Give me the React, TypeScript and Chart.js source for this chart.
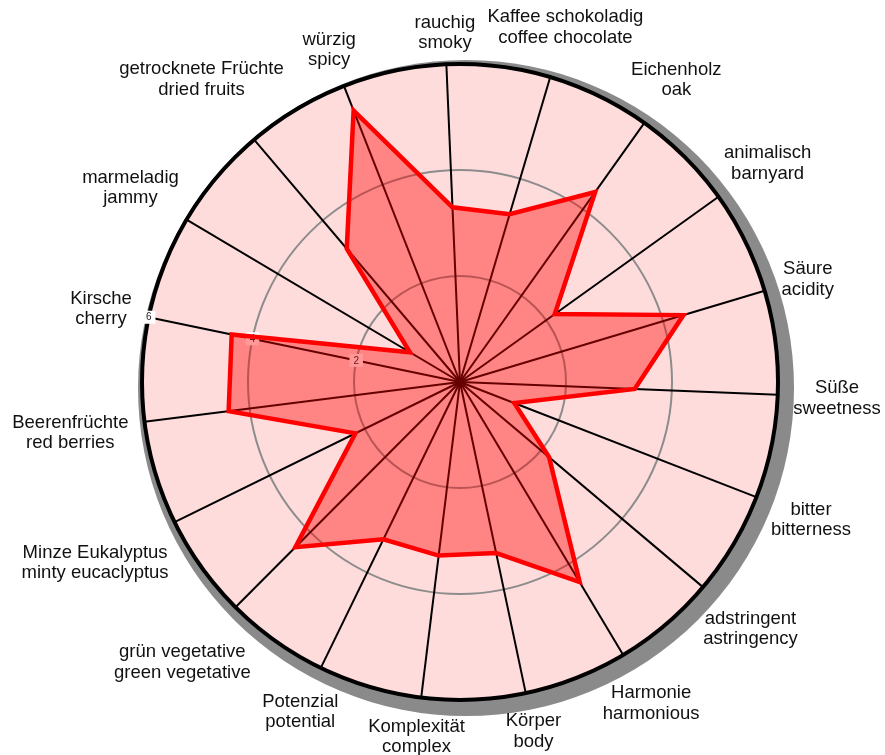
import React, { useEffect, useRef } from "react";
import { Chart, registerables } from "chart.js";

Chart.register(...registerables);

// ---- data ----
const germanLabels = [
  "Kirsche",
  "marmeladig",
  "getrocknete Früchte",
  "würzig",
  "rauchig",
  "Kaffee schokoladig",
  "Eichenholz",
  "animalisch",
  "Säure",
  "Süße",
  "bitter",
  "adstringent",
  "Harmonie",
  "Körper",
  "Komplexität",
  "Potenzial",
  "grün vegetative",
  "Minze Eukalyptus",
  "Beerenfrüchte",
];
const englishLabels = [
  "cherry",
  "jammy",
  "dried fruits",
  "spicy",
  "smoky",
  "coffee chocolate",
  "oak",
  "barnyard",
  "acidity",
  "sweetness",
  "bitterness",
  "astringency",
  "harmonious",
  "body",
  "complex",
  "potential",
  "green vegetative",
  "minty eucaclyptus",
  "red berries",
];
const scores = [4.4, 1.1, 3.3, 5.5, 3.3, 3.3, 4.4, 2.2, 4.4, 3.3, 1.1, 2.2, 4.4, 3.3, 3.3, 3.3, 4.4, 2.2, 4.4];
const tickValues = [2, 4, 6];
const axisMin = 0;
const axisMax = 6;

const LABEL_FONT = '18.5px "Liberation Sans", Arial, sans-serif';
const TICK_FONT = '10px "Liberation Sans", Arial, sans-serif';

const shadowPlugin = {
  id: "discShadow",
  beforeDraw(chart: any) {
    const s = chart.scales.r;
    if (!s) return;
    const ctx = chart.ctx;
    ctx.save();
    ctx.fillStyle = "#8a8a8a";
    ctx.beginPath();
    ctx.arc(s.xCenter + 6, s.yCenter + 6, s.drawingArea + 10, 0, Math.PI * 2);
    ctx.fill();
    ctx.restore();
  },
};

const tickLabelPlugin = {
  id: "uprightTicks",
  beforeDatasetsDraw(chart: any) {
    const s = chart.scales.r;
    const ctx = chart.ctx;
    ctx.save();
    ctx.font = TICK_FONT;
    ctx.textAlign = "center";
    ctx.textBaseline = "middle";
    tickValues.forEach((v) => {
      const d = s.getDistanceFromCenterForValue(v);
      const p = s.getPointPosition(0, d);
      const txt = String(v);
      const w = ctx.measureText(txt).width;
      ctx.fillStyle = "#ffffff";
      ctx.fillRect(p.x - w / 2 - 4, p.y - 6.5, w + 8, 13);
      ctx.fillStyle = "#222222";
      ctx.fillText(txt, p.x, p.y + 0.5);
    });
    ctx.restore();
  },
};

const pointLabelPlugin = {
  id: "blockLabels",
  afterDatasetsDraw(chart: any) {
    const s = chart.scales.r;
    const ctx = chart.ctx;
    const labels = chart.data.labels as string[][];
    ctx.save();
    ctx.font = LABEL_FONT;
    ctx.textAlign = "center";
    ctx.textBaseline = "alphabetic";
    ctx.fillStyle = "#111111";
    const blockH = 34;
    labels.forEach((lines, i) => {
      const w = Math.max(...lines.map((l) => ctx.measureText(l).width));
      const th = s.getIndexAngle(i);
      const r = s.drawingArea + 15 + Math.abs(Math.sin(th)) * w / 2 + Math.abs(Math.cos(th)) * blockH / 2;
      const p = s.getPointPosition(i, r);
      ctx.fillText(lines[0], p.x, p.y - 3.5);
      ctx.fillText(lines[1], p.x, p.y + 17);
    });
    ctx.restore();
  },
};

export default function App() {
  const canvasRef = useRef<HTMLCanvasElement | null>(null);

  useEffect(() => {
    document.body.style.margin = "0";
    const canvas = canvasRef.current;
    if (!canvas) return;
    const labels = germanLabels.map((g, i) => [g, englishLabels[i]]);
    const chart = new Chart(canvas, {
      type: "radar",
      data: {
        labels,
        datasets: [
          {
            data: scores,
            borderColor: "#ff0000",
            backgroundColor: "rgba(255,0,0,0.4)",
            borderWidth: 4.5,
            borderJoinStyle: "miter",
            pointRadius: 0,
            pointHoverRadius: 0,
            fill: true,
            tension: 0,
          },
        ],
      },
      options: {
        responsive: false,
        animation: false,
        devicePixelRatio: 1,
        layout: { padding: { left: 142, right: 107, top: 64, bottom: 55 } },
        plugins: {
          legend: { display: false },
          tooltip: { enabled: false },
          title: { display: false },
        },
        scales: {
          r: {
            min: axisMin,
            max: axisMax,
            startAngle: 281.75,
            backgroundColor: "rgb(255,220,220)",
            ticks: { display: false, stepSize: 2 },
            pointLabels: { display: false },
            grid: {
              circular: true,
              color: (c: any) => (c.tick && c.tick.value === axisMax ? "#000000" : "#8c8c8c"),
              lineWidth: (c: any) => (c.tick && c.tick.value === axisMax ? 4 : 2),
            },
            angleLines: { color: "#000000", lineWidth: 2 },
          },
        },
      } as any,
      plugins: [shadowPlugin, tickLabelPlugin, pointLabelPlugin],
    });
    return () => chart.destroy();
  }, []);

  return (
    <div style={{ width: 885, height: 755 }}>
      <canvas ref={canvasRef} width={885} height={755} />
    </div>
  );
}
